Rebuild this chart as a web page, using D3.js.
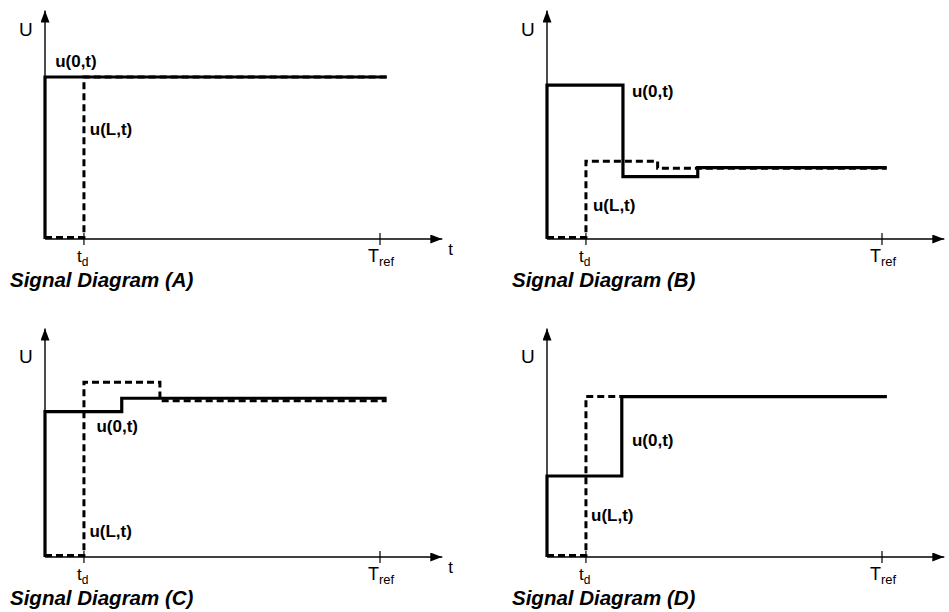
<!DOCTYPE html>
<html>
<head>
<meta charset="utf-8">
<script src="https://cdn.jsdelivr.net/npm/d3@7"></script>
<style>
  body { margin: 0; background: #fff; }
  text { font-family: "Liberation Sans", Arial, sans-serif; fill: #000; }
</style>
</head>
<body>
<svg id="chart" width="949" height="612"></svg>
<script>
// time in units of the line delay td, level relative to the source step
var panelNames = ["A", "B", "C", "D"];
var tdTime = 1;
var trefTime = 8.6;
var axisEndTime = 10.2;
var axisTopLevel = 1.41;

// [time, level] pairs, each level holds until the next time (step after)
var solidA = [[0, 0], [0, 1], [8.77, 1]];
var dashedA = [[0, 0.01], [1, 1], [8.77, 1]];

var solidB = [[0, 0], [0, 0.95], [1.95, 0.385], [3.87, 0.44], [8.72, 0.44]];
var dashedB = [[0, 0.01], [1, 0.48], [2.84, 0.437], [8.72, 0.437]];

var solidC = [[0, 0], [0, 0.897], [1.97, 0.98], [8.77, 0.98]];
var dashedC = [[0, 0.01], [1, 1.078], [2.95, 0.965], [8.77, 0.965]];

var solidD = [[0, 0], [0, 0.5], [1.92, 0.99], [8.72, 0.99]];
var dashedD = [[0, 0.01], [1, 0.99], [8.72, 0.99]];

var solidSeries = [solidA, solidB, solidC, solidD];
var dashedSeries = [dashedA, dashedB, dashedC, dashedD];

// layout: where each small diagram sits and where its labels go (data units)
var width = 949;
var originX = [45, 547, 45, 547];
var originY = [239, 239, 557, 557];
var uLabelLevel = [1.253, 1.253, 1.198, 1.198];
var sourceLabelAt = [[0.26, 1.06], [2.18, 0.877], [1.32, 0.77], [2.18, 0.687]];
var endLabelAt = [[1.15, 0.64], [1.18, 0.173], [1.14, 0.123], [1.13, 0.224]];

var svg = d3.select("#chart");

svg.append("defs").append("marker")
    .attr("id", "arrow")
    .attr("markerUnits", "userSpaceOnUse")
    .attr("viewBox", "0 0 12 9")
    .attr("refX", 12)
    .attr("refY", 4.5)
    .attr("markerWidth", 12)
    .attr("markerHeight", 9)
    .attr("orient", "auto")
  .append("path")
    .attr("d", "M0,0L12,4.5L0,9Z")
    .attr("fill", "#000");

function drawPanel(i) {
  var ox = originX[i], oy = originY[i];
  var x = d3.scaleLinear().domain([0, trefTime]).range([ox, ox + 335]);
  var y = d3.scaleLinear().domain([0, 1]).range([oy, oy - 162]);

  var g = svg.append("g").attr("class", "panel panel-" + panelNames[i]);

  // axes with arrow heads
  g.append("line")
    .attr("x1", x(0)).attr("y1", y(0))
    .attr("x2", x(axisEndTime)).attr("y2", y(0))
    .attr("stroke", "#000").attr("stroke-width", 1.4)
    .attr("marker-end", "url(#arrow)");
  g.append("line")
    .attr("x1", x(0)).attr("y1", y(0))
    .attr("x2", x(0)).attr("y2", y(axisTopLevel))
    .attr("stroke", "#000").attr("stroke-width", 1.4)
    .attr("marker-end", "url(#arrow)");

  g.selectAll("line.tick")
    .data([tdTime, trefTime])
    .enter()
    .append("line")
    .attr("class", "tick")
    .attr("x1", d => x(d)).attr("x2", d => x(d))
    .attr("y1", y(0) - 6).attr("y2", y(0) + 6)
    .attr("stroke", "#000").attr("stroke-width", 1.2);

  // signals
  var line = d3.line()
      .curve(d3.curveStepAfter)
      .x(d => x(d[0]))
      .y(d => y(d[1]));

  g.append("path")
    .datum(dashedSeries[i])
    .attr("fill", "none")
    .attr("stroke", "#000")
    .attr("stroke-width", 3)
    .attr("stroke-dasharray", "7,4")
    .attr("d", line);

  g.append("path")
    .datum(solidSeries[i])
    .attr("fill", "none")
    .attr("stroke", "#000")
    .attr("stroke-width", 3.2)
    .attr("d", line);

  // labels
  g.append("text")
    .attr("x", x(0) - 26).attr("y", y(uLabelLevel[i]))
    .style("font-size", "19px")
    .text("U");

  // the right column's "t" falls outside the picture, as in the original
  if (x(axisEndTime) + 12 < width) {
    g.append("text")
      .attr("x", x(axisEndTime) + 6).attr("y", y(0) + 16)
      .style("font-size", "17px")
      .text("t");
  }

  var td = g.append("text")
    .attr("x", x(tdTime) - 7).attr("y", y(0) + 23)
    .style("font-size", "17px");
  td.append("tspan").text("t");
  td.append("tspan").attr("dy", 4).style("font-size", "12px").text("d");

  var tref = g.append("text")
    .attr("x", x(trefTime) - 12).attr("y", y(0) + 23)
    .style("font-size", "18px");
  tref.append("tspan").text("T");
  tref.append("tspan").attr("dy", 4).style("font-size", "13px").text("ref");

  g.append("text")
    .attr("x", x(sourceLabelAt[i][0])).attr("y", y(sourceLabelAt[i][1]))
    .style("font-size", "17px").style("font-weight", "bold")
    .text("u(0,t)");

  g.append("text")
    .attr("x", x(endLabelAt[i][0])).attr("y", y(endLabelAt[i][1]))
    .style("font-size", "17px").style("font-weight", "bold")
    .text("u(L,t)");

  g.append("text")
    .attr("x", x(0) - 35).attr("y", y(0) + 48)
    .style("font-size", "20.5px").style("font-weight", "bold").style("font-style", "italic")
    .text("Signal Diagram (" + panelNames[i] + ")");
}

panelNames.forEach((d, i) => drawPanel(i));
</script>
</body>
</html>
